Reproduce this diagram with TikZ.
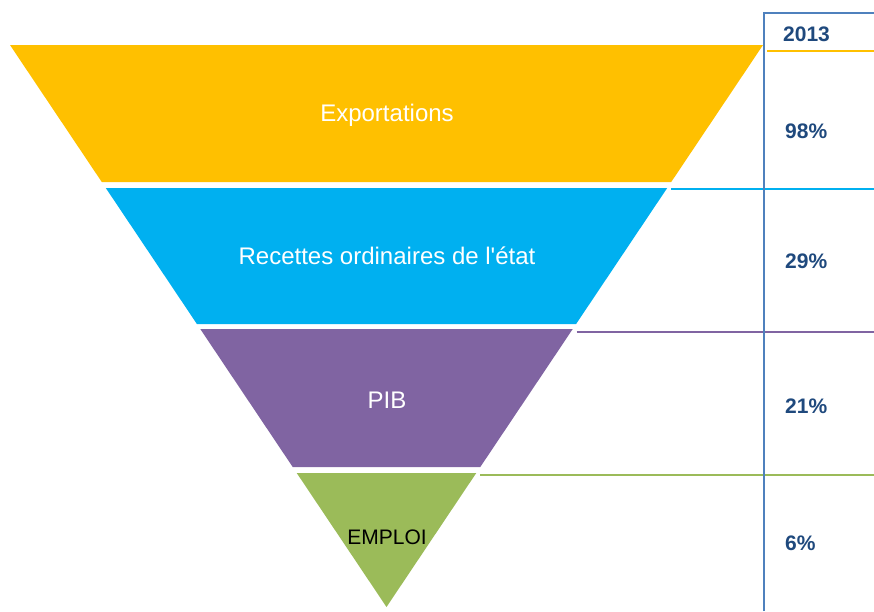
\documentclass[tikz,border=0pt]{standalone}
\usepackage{fontspec}
\setmainfont{Liberation Sans}
\usetikzlibrary{calc}
\definecolor{bandyellow}{HTML}{FFC000}
\definecolor{bandblue}{HTML}{00B0F0}
\definecolor{bandpurple}{HTML}{8064A2}
\definecolor{bandgreen}{HTML}{9BBB59}
\definecolor{colblue}{HTML}{4F81BD}
\definecolor{sharetext}{HTML}{1F497D}
% one slice of the funnel: top, bottom, colour, y of its rule
\def\Band#1#2#3#4{%
 \pgfmathsetmacro\xtl{10+0.66993*(#1-45)}
 \pgfmathsetmacro\xtr{763-0.66993*(#1-45)}
 \pgfmathsetmacro\xbl{10+0.66993*(#2-45)}
 \pgfmathsetmacro\xbr{763-0.66993*(#2-45)}
 \fill[#3] (\xtl,#1) -- (\xtr,#1) -- (\xbr,#2) -- (\xbl,#2) -- cycle;
 \coordinate (#3 rule a) at (\xtr+4,#4);
 \coordinate (#3 rule b) at (874,#4);
 \draw[rule, #3] (#3 rule a) -- (#3 rule b);
}

\begin{document}
\begin{tikzpicture}[x=1pt, y=-1pt,
  band label/.style={font=\fontsize{24}{28}\selectfont, text=white, inner sep=0pt},
  share/.style={anchor=west, inner sep=0pt, text=sharetext,
      font=\fontsize{21}{24}\selectfont\bfseries},
  rule/.style={line width=1.5pt}]
\useasboundingbox (0,0) rectangle (874,611);

\Band{45}{182}{bandyellow}{51}
\Band{188}{324}{bandblue}{189}
\Band{329}{467}{bandpurple}{332}
\Band{473}{607}{bandgreen}{475}

% column of shares
\coordinate (col top) at (764,13);
\coordinate (col bottom) at (764,611);
\coordinate (head end) at (874,13);
\draw[rule, colblue] (col bottom) -- (col top) -- (head end);

\node[band label] (exportations) at (387,115) {Exportations};
\node[band label] (recettes) at (387,256) {Recettes ordinaires de l\textquotesingle état};
\node[band label] (pib) at (387,400) {PIB};
\node[band label, text=black, font=\fontsize{21}{24}\selectfont] (emploi) at (387,537) {EMPLOI};

\node[share] (year) at (783,34) {2013};
\node[share] (share exp) at (785,131) {98\%};
\node[share] (share rec) at (785,261) {29\%};
\node[share] (share pib) at (785,406) {21\%};
\node[share] (share emp) at (785,543) {6\%};
\end{tikzpicture}
\end{document}
